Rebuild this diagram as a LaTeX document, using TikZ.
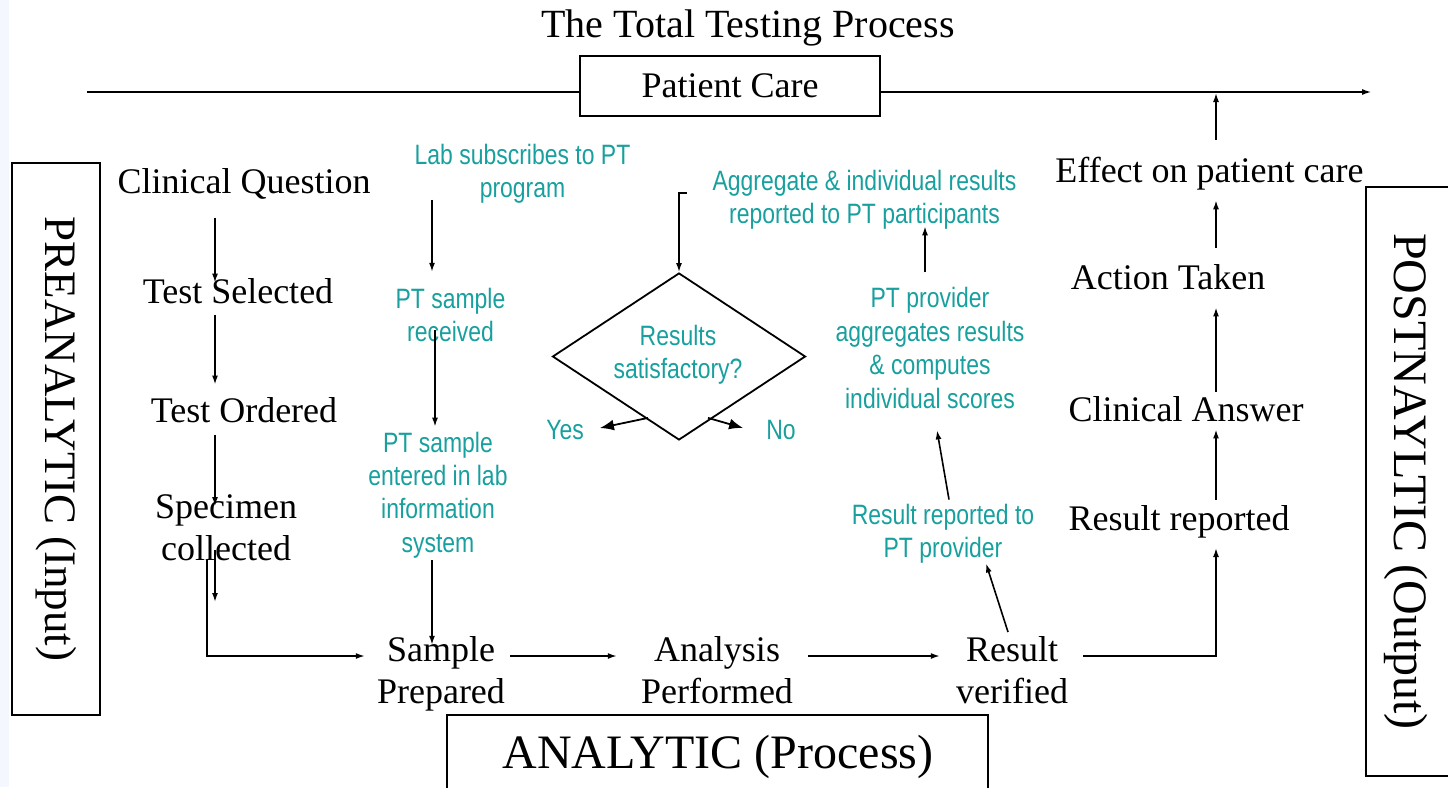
\documentclass[tikz,border=0pt]{standalone}
\usepackage{fontspec}
\setmainfont{Liberation Serif}
\newfontfamily\tealfont[FakeStretch=0.82]{Liberation Sans}
\usetikzlibrary{arrows.meta,shapes.geometric}
\definecolor{tealtxt}{RGB}{24,160,158}
\definecolor{stripblue}{RGB}{244,247,253}
\tikzset{
  lbl/.style={font=\fontsize{36}{42}\selectfont, align=center, inner sep=0pt},
  tlbl/.style={font=\tealfont\fontsize{28}{33.4}\selectfont, text=tealtxt, align=center, inner sep=0pt},
  bigtxt/.style={font=\fontsize{48}{56}\selectfont, inner sep=0pt},
  arr/.style={line width=1.6pt, -{Latex[length=9pt,width=6pt]}},
  bigarr/.style={line width=1.8pt, -{Latex[length=14pt,width=11pt]}},
  boxline/.style={draw, line width=2pt},
}
\begin{document}
\begin{tikzpicture}[x=1pt,y=-1pt]
\useasboundingbox (0,0) rectangle (1448,787);
\clip (0,0) rectangle (1448,787);
\fill[stripblue] (0,0) rectangle (9,787);
% helper coordinates
\coordinate (colA) at (215,0);
\coordinate (colB) at (207,0);
\coordinate (colM) at (432,0);
\coordinate (colM2) at (435,0);
\coordinate (colR) at (1216,0);
\coordinate (colT) at (925,0);
\coordinate (rowA) at (0,656);
\coordinate (tl) at (87,92);
\coordinate (tr) at (1372,92);
\coordinate (dend) at (215,602);

% title and patient care
\node[lbl, font=\fontsize{40}{48}\selectfont] (title) at (748,28) {The Total Testing Process};
\node[lbl, boxline, minimum width=300pt, minimum height=60pt] (pc) at (730,86) {Patient Care};

% side boxes
\node[boxline, rotate=-90, minimum width=552pt, minimum height=88pt, inner sep=0pt,
      font=\fontsize{45}{54}\selectfont] (pre) at (56,439) {PREANALYTIC (Input)};
\node[boxline, minimum width=110pt, minimum height=589pt, inner sep=0pt] (postbox) at (1421,481.5) {};
\node[rotate=-90, bigtxt] (post) at (1406,481.5) {POSTNAYLTIC (Output)};
\node[boxline, minimum width=541pt, minimum height=120pt, inner sep=0pt] (anabox) at (717.5,775) {};
\node[bigtxt] (ana) at (718,757) {ANALYTIC (Process)};

% preanalytic steps
\node[lbl] (cq) at (244,184) {Clinical Question};
\node[lbl] (ts) at (238,291) {Test Selected};
\node[lbl] (to) at (244,410) {Test Ordered};
\node[lbl] (sc) at (226,528) {Specimen\\collected};

% analytic steps
\node[lbl] (sp) at (441,674) {Sample\\Prepared};
\node[lbl] (ap) at (717,670.5) {Analysis\\Performed};
\node[lbl] (rv) at (1012,670.5) {Result\\verified};

% postanalytic steps
\node[lbl] (rr) at (1179,521.5) {Result reported};
\node[lbl] (ca) at (1186,409.6) {Clinical Answer};
\node[lbl] (at) at (1168,277.6) {Action Taken};
\node[lbl] (ep) at (1209.5,173.6) {Effect on patient care};

% PT (teal) items
\node[tlbl] (lab) at (522.5,174) {Lab subscribes to PT\\program};
\node[tlbl] (ptr) at (450.5,315) {PT sample\\received};
\node[tlbl] (pte) at (438,495) {PT sample\\entered in lab\\information\\system};
\node[draw, diamond, line width=1.8pt, minimum width=253pt, minimum height=167pt, inner sep=0pt] (dia) at (679,356.5) {};
\node[tlbl] (diat) at (678,355) {Results\\satisfactory?};
\node[tlbl] (yes) at (565,430) {Yes};
\node[tlbl] (no) at (781,430) {No};
\node[tlbl] (agg) at (864.5,199.7) {Aggregate \& individual results\\reported to PT participants};
\node[tlbl] (ptp) at (930,348) {PT provider\\aggregates results\\\& computes\\individual scores};
\node[tlbl] (rpt) at (943,533.5) {Result reported to\\PT provider};

% top line
\draw[line width=2pt] (tl) -- (pc.west |- tl);
\draw[line width=2pt, -{Latex[length=10pt,width=6pt]}] (pc.east |- tl) -- (tr);

% preanalytic arrows
\draw[arr, shorten <=18pt, shorten >=-4.5pt] (cq.south -| colA) -- (ts.north -| colA);
\draw[arr, shorten <=11.6pt, shorten >=12.6pt] (ts.south -| colA) -- (to.north -| colA);
\draw[arr, shorten <=12.6pt, shorten >=-11.4pt] (to.south -| colA) -- (sc.north -| colA);
\draw[arr, shorten <=-11.4pt] (sc.south -| colA) -- (dend);
\draw[arr, shorten <=-1.4pt, shorten >=12pt] (sc.south -| colB) |- (sp.west |- rowA);

% analytic arrows
\draw[arr, shorten <=5pt, shorten >=24pt] (sp.east |- rowA) -- (ap.west |- rowA);
\draw[arr, shorten <=15pt, shorten >=16pt] (ap.east |- rowA) -- (rv.west |- rowA);
\draw[arr, shorten <=15pt, shorten >=10pt] (rv.east |- rowA) -| (rr.south -| colR);

% postanalytic arrows
\draw[arr, shorten <=5pt, shorten >=7pt] (rr.north -| colR) -- (ca.south -| colR);
\draw[arr, shorten <=5pt, shorten >=17pt] (ca.north -| colR) -- (at.south -| colR);
\draw[arr, shorten <=17pt, shorten >=10pt] (at.north -| colR) -- (ep.south -| colR);
\draw[arr, shorten <=17pt, shorten >=1pt] (ep.north -| colR) -- (colR |- tl);

% PT arrows
\draw[arr, shorten <=-4pt, shorten >=16pt] (lab.south -| colM) -- (ptr.north -| colM);
\draw[arr, shorten <=-12pt, shorten >=5pt] (ptr.south -| colM2) -- (pte.north -| colM2);
\draw[arr, shorten <=2pt, shorten >=-8.3pt] (pte.south -| colM) -- (sp.north -| colM);
\draw[arr] ([xshift=-25.5pt,yshift=6.7pt]agg.west) -| (dia.north);
\draw[bigarr] ([xshift=-31pt,yshift=23pt]dia.south) -- ([xshift=16pt,yshift=2pt]yes.east);
\draw[bigarr] ([xshift=29pt,yshift=23pt]dia.south) -- ([xshift=-23pt,yshift=2pt]no.west);
\draw[arr] ([xshift=-4pt,yshift=4.6pt]rv.north) -- ([xshift=43pt]rpt.south);
\draw[arr] ([xshift=6pt,yshift=4pt]rpt.north) -- ([xshift=7pt,yshift=-21.8pt]ptp.south);
\draw[arr, shorten <=15pt, shorten >=-3.3pt] (ptp.north -| colT) -- (agg.south -| colT);
\end{tikzpicture}
\end{document}
